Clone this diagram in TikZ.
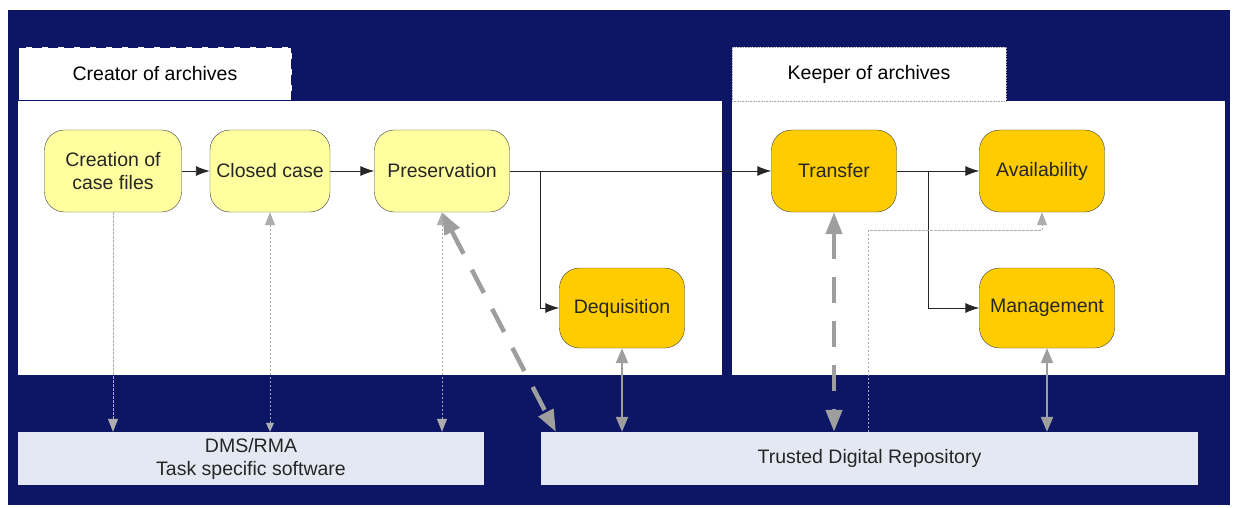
\documentclass[tikz,border=0pt]{standalone}
\usepackage{fontspec}
\setmainfont{Liberation Sans}
\usetikzlibrary{arrows.meta}
\definecolor{navy}{RGB}{12,22,100}
\definecolor{paleyellow}{RGB}{255,255,160}
\definecolor{gold}{RGB}{255,204,0}
\definecolor{software}{RGB}{228,232,242}
\definecolor{linkgrey}{RGB}{158,158,158}
\tikzset{
  task/.style={draw=black!75, rounded corners=20pt, minimum height=82pt,
    align=center, text=black!85, inner sep=2pt},
  early/.style={task, fill=paleyellow},
  late/.style={task, fill=gold},
  system/.style={fill=software, minimum height=53pt, align=center, text=black!85},
  flow/.style={-{Latex[length=14pt,width=10pt]}, black!85, line width=0.9pt},
  softlink/.style={linkgrey!85, line width=1pt, dash pattern=on 2.5pt off 1.5pt,
    -{Triangle[length=13pt,width=10pt]}},
  datalink/.style={linkgrey, line width=2.2pt,
    {Triangle[length=15pt,width=12pt]}-{Triangle[length=15pt,width=12pt]}},
  bulklink/.style={linkgrey, line width=4.5pt, dash pattern=on 26pt off 18pt,
    {Triangle[length=22pt,width=16pt]}-{Triangle[length=22pt,width=16pt]}}
}
\begin{document}
\begin{tikzpicture}[x=1pt,y=-1pt,font=\fontsize{19.5}{23}\selectfont]
\useasboundingbox (0,0) rectangle (1239,508);
\fill[white] (0,0) rectangle (1239,508);
\fill[navy] (8,10) rectangle (1230,505);
% the two owners
\fill[white] (18,101) rectangle (722,375);
\fill[white] (732,101) rectangle (1225,375);
\node[fill=white, draw=navy, line width=1.5pt, dash pattern=on 10pt off 6pt,
  minimum width=273pt, minimum height=53pt] (creator) at (155,74) {Creator of archives};
\node[fill=white, draw=black!35, line width=0.6pt, densely dotted,
  minimum width=274pt, minimum height=54pt] (keeper) at (869,74) {Keeper of archives};
% process steps
\node[early, minimum width=137pt] (creation) at (113,171) {Creation of\\case files};
\node[early, minimum width=120pt] (closed) at (270,171) {Closed case};
\node[early, minimum width=135pt] (preservation) at (442,171) {Preservation};
\node[late, minimum width=125pt, minimum height=80pt] (dequisition) at (622,308) {Dequisition};
\node[late, minimum width=125pt] (transfer) at (834,171) {Transfer};
\node[late, minimum width=125pt] (availability) at (1042,171) {Availability};
\node[late, minimum width=135pt, minimum height=80pt] (management) at (1047,308) {Management};
% software
\node[system, minimum width=466pt] (dms) at (251,458.5) {DMS/RMA\\Task specific software};
\node[system, minimum width=657pt] (tdr) at (869.5,458.5) {Trusted Digital Repository};
% main flow
\draw[flow] (creation) -- (closed);
\draw[flow] (closed) -- (preservation);
\draw[flow] (preservation) -- (transfer);
\coordinate (split) at (540,171);
\draw[flow] (split) |- (dequisition);
\coordinate (fork) at (928,171);
\draw[flow] (fork) |- (management);
\draw[flow] (transfer) -- (availability);
% links to the systems
\draw[softlink] (creation.south) -- (creation.south |- dms.north);
\draw[softlink, {Triangle[length=13pt,width=10pt]}-{Triangle[length=9pt,width=8pt]}]
  (closed.south) -- (closed.south |- dms.north);
\draw[softlink, {Triangle[length=13pt,width=10pt]}-{Triangle[length=13pt,width=10pt]}]
  (preservation.south) -- (preservation.south |- dms.north);
\coordinate (handover) at (556,432);
\draw[bulklink] (preservation.south) -- (handover);
\draw[datalink] (dequisition.south) -- (dequisition.south |- tdr.north);
\draw[bulklink] (transfer.south) -- (transfer.south |- tdr.north);
\draw[datalink] (management.south) -- (management.south |- tdr.north);
\coordinate (access) at (868,432);
\coordinate (bend) at (1042,230);
\draw[softlink] (access) |- (bend) -- (availability.south);
\end{tikzpicture}
\end{document}
